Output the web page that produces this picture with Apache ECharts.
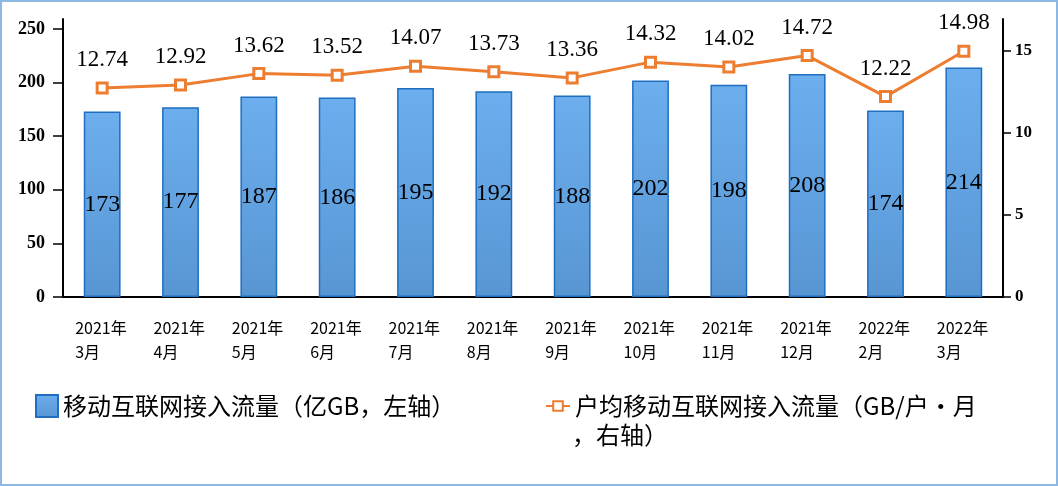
<!DOCTYPE html>
<html>
<head>
<meta charset="utf-8">
<script src="https://cdn.jsdelivr.net/npm/echarts@6/dist/echarts.min.js"></script>
<style>
  html, body { margin: 0; padding: 0; background: #fff; }
  #chart { width: 1054px; height: 482px; border: 2px solid #8db8e3; }
</style>
</head>
<body>
<div id="chart"></div>
<script>
const months = ['2021年\n3月', '2021年\n4月', '2021年\n5月', '2021年\n6月', '2021年\n7月', '2021年\n8月',
  '2021年\n9月', '2021年\n10月', '2021年\n11月', '2021年\n12月', '2022年\n2月', '2022年\n3月']
const traffic = [173, 177, 187, 186, 195, 192, 188, 202, 198, 208, 174, 214]
const perUser = [12.74, 12.92, 13.62, 13.52, 14.07, 13.73, 13.36, 14.32, 14.02, 14.72, 12.22, 14.98]
const leftTicks = [0, 50, 100, 150, 200, 250]
const rightTicks = [0, 5, 10, 15]

const serif = '"Liberation Serif", "Noto Sans CJK SC", serif'
const cjk = '"Noto Sans CJK SC", sans-serif'

let myChart = echarts.init(document.getElementById('chart'))
myChart.setOption({
  animation: false,
  grid: {
    left: 61,
    right: 53,
    top: 17,
    bottom: 187,
  },
  legend: [
    {
      data: [{ name: '移动互联网接入流量（亿GB，左轴）', icon: 'rect' }],
      left: 28,
      top: 387,
      itemWidth: 22,
      itemHeight: 22,
      itemGap: 12,
      textStyle: { fontFamily: cjk, fontSize: 24, color: '#000' },
    },
    {
      data: ['户均移动互联网接入流量（GB/户•月，右轴）'],
      left: 538,
      top: 387,
      itemWidth: 24,
      itemHeight: 12,
      // the legend text wraps in the original; the tail is drawn as a second line below
      formatter: (name) => name.replace('，右轴）', ''),
      textStyle: { fontFamily: cjk, fontSize: 24, color: '#000' },
    },
  ],
  graphic: [
    {
      type: 'text',
      left: 570,
      top: 421,
      style: { text: '，右轴）', fontFamily: cjk, fontSize: 24, fill: '#000' },
    },
  ],
  xAxis: {
    type: 'category',
    data: months,
    axisLine: { lineStyle: { color: '#000', width: 2 } },
    axisTick: { length: 8, lineStyle: { color: '#000', width: 1.5 } },
    axisLabel: {
      margin: 19,
      interval: 0,
      formatter: (v) => v.split('\n').map((s) => '{a|' + s + '}').join('\n'),
      rich: {
        a: { width: 54, align: 'left', fontFamily: cjk, fontSize: 16, lineHeight: 24, color: '#000' },
      },
    },
  },
  yAxis: [
    {
      type: 'value',
      min: 0,
      max: 259.3,
      splitLine: { show: false },
      axisLine: { show: true, lineStyle: { color: '#000', width: 2 } },
      axisTick: { show: true, length: 10, customValues: leftTicks, lineStyle: { color: '#000', width: 1.5 } },
      axisLabel: { customValues: leftTicks, margin: 18, fontFamily: serif, fontSize: 18, fontWeight: 'bold', color: '#000' },
    },
    {
      type: 'value',
      min: 0,
      max: 16.95,
      splitLine: { show: false },
      axisLine: { show: true, lineStyle: { color: '#000', width: 2 } },
      axisTick: { show: true, length: 8, customValues: rightTicks, lineStyle: { color: '#000', width: 1.5 } },
      axisLabel: { customValues: rightTicks, margin: 12, fontFamily: serif, fontSize: 17, fontWeight: 'bold', color: '#000' },
    },
  ],
  series: [
    {
      name: '移动互联网接入流量（亿GB，左轴）',
      type: 'bar',
      data: traffic,
      barWidth: '47%',
      itemStyle: {
        color: {
          type: 'linear',
          x: 0,
          y: 0,
          x2: 0,
          y2: 1,
          colorStops: [
            { offset: 0, color: '#6caeee' },
            { offset: 1, color: '#5896d3' },
          ],
        },
        borderColor: '#1f6ec0',
        borderWidth: 1.5,
      },
      label: {
        show: true,
        position: 'inside',
        fontFamily: serif,
        fontSize: 24,
        color: '#000',
      },
    },
    {
      name: '户均移动互联网接入流量（GB/户•月，右轴）',
      type: 'line',
      yAxisIndex: 1,
      data: perUser,
      symbol: 'rect',
      symbolSize: 10,
      lineStyle: { color: '#ed7d31', width: 3 },
      itemStyle: { color: '#fff', borderColor: '#ed7d31', borderWidth: 3 },
      label: {
        show: true,
        position: 'top',
        distance: 10,
        fontFamily: serif,
        fontSize: 23,
        color: '#000',
        formatter: (p) => p.value.toFixed(2),
      },
    },
  ],
})
</script>
</body>
</html>
